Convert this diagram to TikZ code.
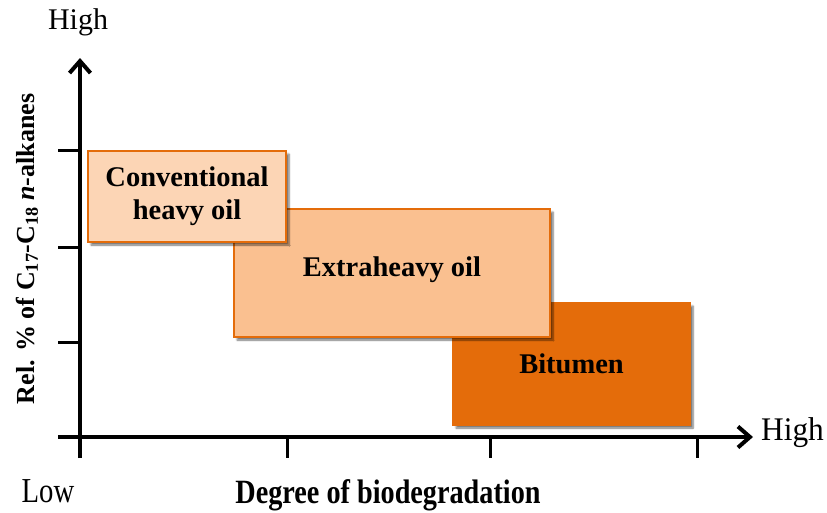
\documentclass[tikz,border=0pt]{standalone}
\usepackage{fontspec}
\setmainfont{Liberation Serif}
\usetikzlibrary{arrows.meta,shadows.blur}
\definecolor{edgeorange}{HTML}{E46C0A}
\definecolor{convfill}{HTML}{FCD5B5}
\definecolor{extrafill}{HTML}{FAC090}
\definecolor{bitfill}{HTML}{E46C0A}
\begin{document}
\begin{tikzpicture}[x=1pt,y=-1pt,
  axisline/.style={line width=4pt,-{Straight Barb[length=12pt,width=21pt,line width=4pt]}},
  tickline/.style={line width=3pt},
  band/.style={draw=edgeorange,line width=1.5pt,inner sep=0pt,align=center,
    font=\bfseries\fontsize{28.5}{33}\selectfont,
    blur shadow={shadow xshift=3pt,shadow yshift=-3pt,shadow blur steps=6,shadow opacity=55}},
  axislabel/.style={inner sep=0pt}
  ]
\useasboundingbox (0,0) rectangle (827,512);

% classes of oil, from most to least degraded
\node[band,fill=bitfill,minimum width=237pt,minimum height=122pt] (bit) at (571.5,364) {Bitumen};
\node[band,fill=extrafill,minimum width=316pt,minimum height=128pt] (extra) at (392,273) {Extraheavy oil\rule[-12pt]{0pt}{1pt}};
\node[band,fill=convfill,minimum width=198pt,minimum height=91pt] (conv) at (187,196.5) {Conventional\\heavy oil};

% axes
\coordinate (ybot) at (80,458);
\coordinate (ytop) at (80,58);
\coordinate (xleft) at (58,437);
\coordinate (xright) at (753,437);
\draw[axisline] (ybot) -- (ytop);
\draw[axisline] (xleft) -- (xright);

% ticks
\foreach \ty in {150,247,342} \draw[tickline] (58,\ty) -- (80,\ty);
\foreach \tx in {287,490,697} \draw[tickline] (\tx,437) -- (\tx,458);

% axis labels
\node[axislabel,font=\fontsize{30}{30}\selectfont] (yhigh) at (78,22) {High};
\node[axislabel,font=\fontsize{33}{33}\selectfont,anchor=west] (xhigh) at (761,433) {\scalebox{0.95}[1]{High}};
\node[axislabel,font=\fontsize{35}{35}\selectfont] (xlow) at (48,491) {\scalebox{0.82}[1]{Low}};
\node[axislabel,font=\bfseries\fontsize{34}{34}\selectfont] (xtitle) at (388,495) {\scalebox{0.83}[1]{Degree of biodegradation}};
\node[axislabel,font=\bfseries\fontsize{26}{26}\selectfont,rotate=90] (ytitle) at (27,249) {Rel. \% of C$_{\mathbf{17}}$-C$_{\mathbf{18}}$ \textit{n}-alkanes};
\end{tikzpicture}
\end{document}
